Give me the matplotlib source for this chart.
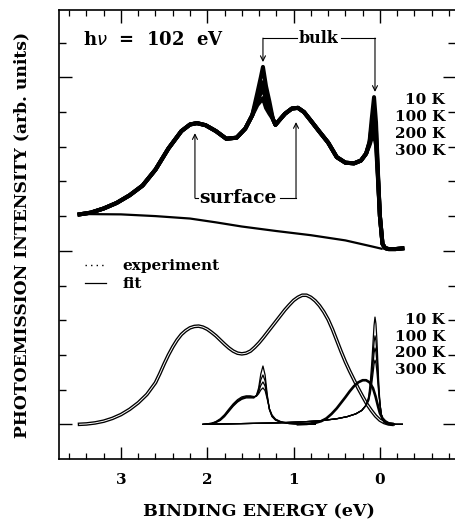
import matplotlib.pyplot as plt
from matplotlib.lines import Line2D
from matplotlib.ticker import MultipleLocator, FixedLocator

# ---- upper panel: measured spectra, one per temperature (binding energy in eV)
energy_exp = [3.48, 3.35, 3.2, 3.05, 2.9, 2.75, 2.6, 2.45, 2.3, 2.2, 2.12, 2.02,
              1.9, 1.78, 1.66, 1.56, 1.48, 1.42, 1.38, 1.355, 1.32, 1.28, 1.24,
              1.21, 1.17, 1.1, 1.02, 0.95, 0.88, 0.8, 0.7, 0.6, 0.5, 0.4, 0.3,
              0.22, 0.16, 0.12, 0.095, 0.068, 0.045, 0.02, 0.0, -0.03, -0.06,
              -0.1, -0.18, -0.26]
_head = [7.05, 7.10, 7.22, 7.38, 7.60, 7.88, 8.34, 8.95, 9.45, 9.64, 9.68, 9.62,
         9.45, 9.23, 9.26, 9.52, 9.9]
_mid = [9.8, 9.63, 9.75, 9.95, 10.1, 10.12, 10.0, 9.75, 9.43, 9.12, 8.7, 8.54,
        8.52, 8.6, 8.8]
_tail = [7.0, 6.2, 6.08, 6.05, 6.05, 6.07]
exp_10K = _head + [10.55, 11.0, 11.3, 10.75, 10.3] + _mid + [9.15, 9.8, 10.43, 9.7, 8.1] + _tail
exp_100K = _head + [10.4, 10.7, 10.86, 10.45, 10.15] + _mid + [9.12, 9.6, 10.0, 9.45, 8.05] + _tail
exp_200K = _head + [10.3, 10.55, 10.69, 10.35, 10.05] + _mid + [9.1, 9.45, 9.68, 9.25, 8.0] + _tail
exp_300K = _head + [10.2, 10.32, 10.40, 10.12, 9.95] + _mid + [9.05, 9.25, 9.34, 9.05, 7.95] + _tail

# secondary-electron background under the spectra
bg_energy = [3.48, 3.0, 2.6, 2.2, 1.9, 1.6, 1.2, 0.8, 0.4, 0.1, -0.02]
bg_int = [7.06, 7.05, 7.0, 6.93, 6.82, 6.7, 6.57, 6.45, 6.3, 6.13, 6.06]

# ---- lower panel: fit components
surf_energy = [3.48, 3.4, 3.3, 3.2, 3.1, 3.0, 2.9, 2.8, 2.7, 2.6, 2.55, 2.5, 2.45,
               2.4, 2.35, 2.3, 2.25, 2.2, 2.15, 2.1, 2.05, 2.0, 1.95, 1.9, 1.85,
               1.8, 1.75, 1.7, 1.65, 1.6, 1.55, 1.5, 1.45, 1.4, 1.35, 1.3, 1.25,
               1.2, 1.15, 1.1, 1.05, 1.0, 0.95, 0.9, 0.85, 0.8, 0.75, 0.7, 0.65,
               0.6, 0.55, 0.5, 0.45, 0.4, 0.35, 0.3, 0.25, 0.2, 0.15, 0.1, 0.05,
               0.0, -0.05, -0.1, -0.14]
surf_int = [1.0, 1.01, 1.04, 1.09, 1.17, 1.28, 1.43, 1.62, 1.86, 2.2, 2.46, 2.74,
            3.0, 3.23, 3.43, 3.59, 3.7, 3.78, 3.82, 3.83, 3.8, 3.74, 3.65, 3.55,
            3.43, 3.31, 3.2, 3.11, 3.05, 3.03, 3.05, 3.11, 3.22, 3.35, 3.5, 3.66,
            3.82, 3.98, 4.14, 4.3, 4.44, 4.57, 4.66, 4.72, 4.72, 4.66, 4.56, 4.42,
            4.24, 4.02, 3.74, 3.42, 3.1, 2.8, 2.53, 2.28, 2.03, 1.8, 1.58, 1.4,
            1.24, 1.12, 1.05, 1.01, 1.0]

bulk_energy = [2.05, 1.95, 1.9, 1.85, 1.8, 1.75, 1.7, 1.65, 1.6, 1.55, 1.5, 1.46,
               1.43, 1.405, 1.38, 1.355, 1.33, 1.305, 1.28, 1.25, 1.21, 1.15,
               1.05, 0.9, 0.75]
bulk_10K = [1.0, 1.02, 1.05, 1.11, 1.22, 1.37, 1.52, 1.64, 1.72, 1.76, 1.76, 1.76,
            1.84, 2.05, 2.45, 2.68, 2.42, 1.85, 1.42, 1.22, 1.12, 1.06, 1.02, 1.0, 1.0]
bulk_100K = [1.0, 1.02, 1.06, 1.12, 1.24, 1.39, 1.54, 1.66, 1.74, 1.78, 1.78, 1.77,
             1.83, 1.98, 2.28, 2.42, 2.25, 1.8, 1.43, 1.23, 1.13, 1.06, 1.02, 1.0, 1.0]
bulk_200K = [1.0, 1.03, 1.07, 1.14, 1.26, 1.41, 1.56, 1.68, 1.76, 1.8, 1.8, 1.78,
             1.82, 1.93, 2.12, 2.22, 2.1, 1.76, 1.44, 1.25, 1.14, 1.07, 1.03, 1.0, 1.0]
bulk_300K = [1.0, 1.03, 1.08, 1.16, 1.28, 1.44, 1.59, 1.71, 1.79, 1.82, 1.82, 1.8,
             1.81, 1.88, 1.99, 2.05, 1.97, 1.72, 1.45, 1.27, 1.15, 1.08, 1.03, 1.01, 1.0]

s2_energy = [0.95, 0.85, 0.75, 0.68, 0.62, 0.56, 0.5, 0.45, 0.4, 0.35, 0.3, 0.25,
             0.2, 0.16, 0.12, 0.08, 0.05, 0.02, 0.0, -0.03, -0.06, -0.1, -0.16]
s2_int = [1.0, 1.01, 1.04, 1.09, 1.17, 1.3, 1.46, 1.62, 1.78, 1.95, 2.1, 2.21,
          2.27, 2.27, 2.21, 2.04, 1.8, 1.5, 1.32, 1.17, 1.09, 1.03, 1.0]

ef_energy = [2.0, 1.6, 1.2, 0.9, 0.7, 0.5, 0.38, 0.28, 0.21, 0.16, 0.13, 0.11,
             0.095, 0.08, 0.068, 0.057, 0.046, 0.035, 0.024, 0.013, 0.0, -0.015,
             -0.03, -0.05, -0.08, -0.14, -0.26]
_ef_l = [1.0, 1.02, 1.04, 1.07, 1.1, 1.16, 1.22, 1.3, 1.4, 1.55]
_ef_r = [1.14, 1.06, 1.02, 1.0, 1.0]
ef_10K = _ef_l + [1.8, 2.25, 2.75, 3.35, 3.85, 4.09, 3.9, 3.45, 2.8, 2.15, 1.62, 1.3] + _ef_r
ef_100K = _ef_l + [1.75, 2.1, 2.49, 2.97, 3.36, 3.55, 3.41, 3.05, 2.55, 2.03, 1.6, 1.3] + _ef_r
ef_200K = _ef_l + [1.71, 2.0, 2.33, 2.72, 3.05, 3.2, 3.09, 2.79, 2.38, 1.96, 1.6, 1.3] + _ef_r
ef_300K = _ef_l + [1.68, 1.91, 2.16, 2.47, 2.73, 2.85, 2.76, 2.53, 2.2, 1.87, 1.59, 1.3] + _ef_r

temp_labels = ['10 K', '100 K', '200 K', '300 K']
upper_label_y = [10.35, 9.86, 9.37, 8.88]
lower_label_y = [4.0, 3.52, 3.05, 2.56]

serif = 'DejaVu Serif'

fig = plt.figure(figsize=(4.55, 5.25), dpi=100)
ax = fig.add_axes([59 / 455, 66 / 525, 396 / 455, 449 / 525])

for y in (exp_10K, exp_100K, exp_200K, exp_300K):
    ax.plot(energy_exp, y, color='black', lw=2.9, solid_joinstyle='round')
ax.plot(bg_energy, bg_int, color='black', lw=1.6)

# the surface fit is drawn as a hollow double line (two temperatures)
ax.plot(surf_energy, surf_int, color='black', lw=2.6, solid_joinstyle='round')
ax.plot(surf_energy, surf_int, color='white', lw=0.7, solid_joinstyle='round')
for y in (bulk_10K, bulk_100K, bulk_200K, bulk_300K):
    ax.plot(bulk_energy, y, color='black', lw=0.9)
ax.plot(s2_energy, s2_int, color='black', lw=1.9)
for y in (ef_10K, ef_100K, ef_200K, ef_300K):
    ax.plot(ef_energy, y, color='black', lw=0.9)

ax.set_xlim(3.718, -0.87)
ax.set_ylim(0, 12.94)

# x ticks: inward on top and bottom
ax.xaxis.set_major_locator(MultipleLocator(1))
ax.xaxis.set_minor_locator(MultipleLocator(0.2))
ax.tick_params(axis='x', which='both', direction='in', top=True, bottom=True,
               pad=10, labelsize=11)
ax.tick_params(axis='x', which='major', length=9, width=1.0)
ax.tick_params(axis='x', which='minor', length=4, width=0.9)
for lab in ax.get_xticklabels():
    lab.set_family(serif)
    lab.set_weight('bold')

# y ticks: no labels, inward on both sides
ax.yaxis.set_major_locator(FixedLocator([1, 6, 11]))
ax.yaxis.set_minor_locator(FixedLocator([2, 3, 4, 5, 7, 8, 9, 10, 12]))
ax.tick_params(axis='y', which='both', direction='in', left=True, right=True,
               labelleft=False)
ax.tick_params(axis='y', which='major', length=9, width=1.0)
ax.tick_params(axis='y', which='minor', length=5, width=1.0)
ax.spines['right'].set_visible(False)
for side in ('left', 'top', 'bottom'):
    ax.spines[side].set_linewidth(1.2)

txt = dict(family=serif, weight='bold', color='black')

ax.text(3.44, 12.07, r'h$\nu$  =  102  eV', fontsize=13, va='center', ha='left', **txt)

for lab, y in zip(temp_labels, upper_label_y):
    ax.text(-0.754, y, lab, fontsize=11, ha='right', va='center', **txt)
for lab, y in zip(temp_labels, lower_label_y):
    ax.text(-0.754, y, lab, fontsize=11, ha='right', va='center', **txt)

arrow = dict(arrowstyle='->', lw=0.8, color='black', shrinkA=0, shrinkB=0,
             mutation_scale=9)

# "bulk" bracket
ax.text(0.706, 12.13, 'bulk', fontsize=11.5, ha='center', va='center', **txt)
ax.plot([1.355, 0.96], [12.13, 12.13], color='black', lw=0.8)
ax.plot([0.45, 0.057], [12.13, 12.13], color='black', lw=0.8)
ax.annotate('', xy=(1.355, 11.44), xytext=(1.355, 12.13), arrowprops=arrow)
ax.annotate('', xy=(0.057, 10.58), xytext=(0.057, 12.13), arrowprops=arrow)

# "surface" bracket
ax.text(1.64, 7.52, 'surface', fontsize=13.5, ha='center', va='center', **txt)
ax.plot([2.143, 2.11], [7.52, 7.52], color='black', lw=0.8)
ax.plot([1.16, 0.972], [7.52, 7.52], color='black', lw=0.8)
ax.annotate('', xy=(2.143, 9.39), xytext=(2.143, 7.52), arrowprops=arrow)
ax.annotate('', xy=(0.972, 9.71), xytext=(0.972, 7.52), arrowprops=arrow)

handles = [Line2D([], [], color='black', ls=(0, (1, 3)), lw=1.0),
           Line2D([], [], color='black', ls='-', lw=0.9)]
ax.legend(handles, ['experiment', 'fit'], loc='upper left',
          bbox_to_anchor=(0.03, 0.475), frameon=False, handlelength=1.4,
          handletextpad=1.1, labelspacing=0.25,
          prop=dict(family=serif, weight='bold', size=11))

fig.text(22 / 455, 0.552, 'PHOTOEMISSION INTENSITY (arb. units)', rotation=90,
         ha='center', va='center', fontsize=12.3, **txt)
fig.text(259 / 455, 1 - 512 / 525, 'BINDING ENERGY (eV)', ha='center',
         va='center', fontsize=12.6, **txt)

fig.savefig('out.png', dpi=100)
